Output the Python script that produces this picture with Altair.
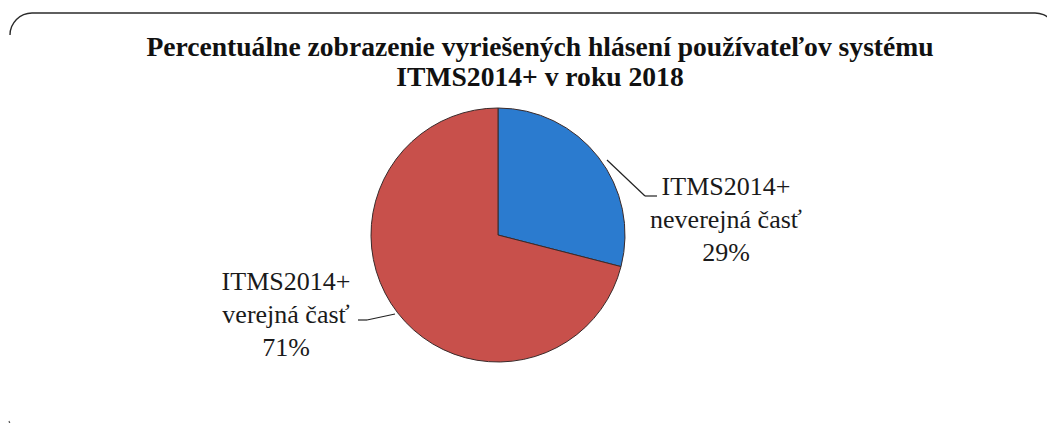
import altair as alt
import pandas as pd

# ---- data ----
categories = ["ITMS2014+ neverejná časť", "ITMS2014+ verejná časť"]
shares = [29, 71]
label_lines = [
    ["ITMS2014+", "neverejná časť", "29%"],
    ["ITMS2014+", "verejná časť", "71%"],
]
colors = ["#2b7bcf", "#c8504b"]
title_lines = [
    "Percentuálne zobrazenie vyriešených hlásení používateľov systému",
    "ITMS2014+ v roku 2018",
]

W, H = 1039, 415
OFF = 8  # page margin


def px(v):
    return v - OFF


df = pd.DataFrame({"cat": categories, "share": shares, "order": [0, 1]})

pie = alt.Chart(df).mark_arc(
    outerRadius=127, stroke="#3a2a2a", strokeWidth=1
).encode(
    theta=alt.Theta("share:Q", stack=True),
    order=alt.Order("order:Q"),
    color=alt.Color("cat:N", scale=alt.Scale(domain=categories, range=colors), legend=None),
    x=alt.value(px(498)),
    y=alt.value(px(235)),
)

serif = "Liberation Serif"

lab_df = pd.DataFrame({"cat": categories, "txt": label_lines})

lab_right = alt.Chart(lab_df).transform_filter(
    alt.datum.cat == categories[0]
).mark_text(
    font=serif, fontSize=26, lineHeight=33, align="center", baseline="alphabetic", color="#1a1a1a"
).encode(text="txt", x=alt.value(px(726)), y=alt.value(px(195)))

lab_left = alt.Chart(lab_df).transform_filter(
    alt.datum.cat == categories[1]
).mark_text(
    font=serif, fontSize=26, lineHeight=33, align="center", baseline="alphabetic", color="#1a1a1a"
).encode(text="txt", x=alt.value(px(286)), y=alt.value(px(290)))

title_df = pd.DataFrame({"t": [title_lines]})
title = alt.Chart(title_df).mark_text(
    font=serif, fontSize=27.6, fontWeight="bold", lineHeight=30, align="center",
    baseline="alphabetic", color="#111111"
).encode(text="t", x=alt.value(px(540)), y=alt.value(px(56)))

one = pd.DataFrame({"a": [0]})


def seg(x1, y1, x2, y2, color="#222222", w=1.2):
    return alt.Chart(one).mark_rule(color=color, strokeWidth=w).encode(
        x=alt.value(px(x1)), y=alt.value(px(y1)), x2=alt.value(px(x2)), y2=alt.value(px(y2))
    )


leaders = [
    seg(607, 160, 645, 196),
    seg(645, 196, 657, 196),
    seg(358, 320, 367, 320),
    seg(367, 320, 395, 314),
]

# frame (only the top of the rounded box is visible)
frame = [
    seg(32, 13, 1035, 13, color="#2a2a2a", w=1.5),
    alt.Chart(one).mark_arc(
        innerRadius=21.3, outerRadius=22.7, theta=4.712389, theta2=6.283185, color="#2a2a2a"
    ).encode(x=alt.value(px(32)), y=alt.value(px(35))),
    alt.Chart(one).mark_arc(
        innerRadius=21.3, outerRadius=22.7, theta=0.0, theta2=1.570796, color="#2a2a2a"
    ).encode(x=alt.value(px(1035)), y=alt.value(px(35))),
    seg(9, 421, 11, 427, color="#555555", w=1.2),
]

chart = alt.layer(pie, *leaders, lab_right, lab_left, title, *frame).properties(
    width=W, height=H, autosize=alt.AutoSizeParams(type="none"), padding=0,
    background="white"
).configure_view(stroke=None)

chart.save("out.html", embed_options={"renderer": "svg", "actions": False})
